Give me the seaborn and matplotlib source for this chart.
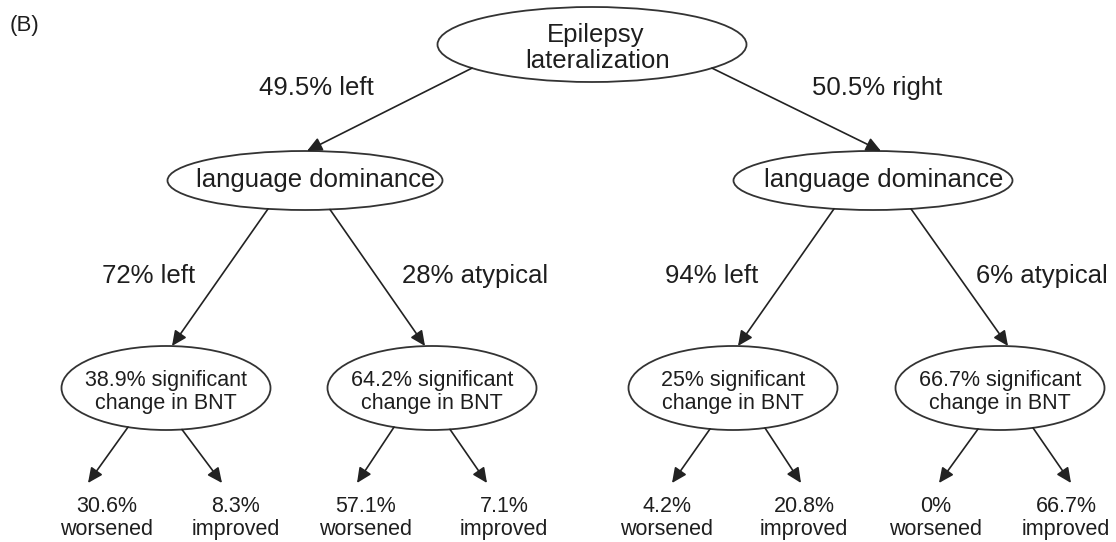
import matplotlib
matplotlib.use("Agg")
import matplotlib.pyplot as plt
from matplotlib.patches import Ellipse, FancyArrowPatch
import seaborn as sns
import numpy as np

# tree contents
root_label = "Epilepsy\nlateralization"
side_labels = ["49.5% left", "50.5% right"]
dom_label = "language dominance"
dom_labels = ["72% left", "28% atypical", "94% left", "6% atypical"]
sig_pcts = ["38.9%", "64.2%", "25%", "66.7%"]
worsened = ["30.6%", "57.1%", "4.2%", "0%"]
improved = ["8.3%", "7.1%", "20.8%", "66.7%"]

# layout in pixel units (figure is 1116 x 542)
ROOT = dict(x=592, y=44.5, w=309, h=75)
DOM_X = [305, 873]
DOM_W = [275, 279]
DOM_Y, DOM_H = 180.5, 59
SIG_X = [166, 432, 733, 1000]
SIG_Y, SIG_W, SIG_H = 388, 209, 84
LEAF_X = [[107, 236], [366, 504], [667, 804], [936, 1066]]
LEAF_TIP_X = [[88, 222], [357, 487], [672, 801], [939, 1071]]
LEAF_DX = [[-38, 16], [-38, 18], [-23, 32], [-22, 33]]
LEAF_TIP_Y = 483

sns.set_theme(style="white")
plt.rcParams["font.family"] = ["Liberation Sans", "DejaVu Sans"]

fig = plt.figure(figsize=(11.16, 5.42), dpi=100)
ax = fig.add_axes([0, 0, 1, 1])
ax.set_xlim(0, 1116)
ax.set_ylim(542, 0)
ax.axis("off")

LINE = "#222222"
EDGE = "#333333"
TXT = "#1e1e1e"
BIG = 18.5
SMALL = 15.5


def ellipse(x, y, w, h):
    ax.add_patch(Ellipse((x, y), w, h, facecolor="white", edgecolor=EDGE, lw=1.3, zorder=2))


def on_bottom(x, y, w, h, dx):
    # point on the lower edge of an ellipse, dx from its centre
    return x + dx, y + h / 2 * np.sqrt(max(0.0, 1 - (2 * dx / w) ** 2))


def arrow(p0, p1):
    ax.add_patch(FancyArrowPatch(p0, p1, arrowstyle="-|>,head_length=0.9,head_width=0.42",
                                 mutation_scale=10, color=LINE, lw=1.2,
                                 shrinkA=0, shrinkB=0, zorder=3))


ax.text(10, 31, "(B)", fontsize=16, color=TXT, va="baseline")

# root
ellipse(ROOT["x"], ROOT["y"], ROOT["w"], ROOT["h"])
ax.text(ROOT["x"] + 4, 42, root_label.split("\n")[0], fontsize=BIG, ha="center", va="baseline", color=TXT)
ax.text(ROOT["x"] + 6, 68, root_label.split("\n")[1], fontsize=BIG, ha="center", va="baseline", color=TXT)

root_dx = [-120, 120]
side_x = [316, 877]
for i in range(2):
    arrow(on_bottom(ROOT["x"], ROOT["y"], ROOT["w"], ROOT["h"], root_dx[i]),
          (DOM_X[i] + (2 if i == 0 else 8), DOM_Y - DOM_H / 2))
    ax.text(side_x[i], 95, side_labels[i], fontsize=BIG, ha="center", va="baseline", color=TXT)

# language dominance nodes
dom_dx = [[-37, 25], [-39, 38]]
dom_tip = [[172, 425], [738, 1008]]
dom_text_x = [[149, 475], [712, 1042]]
for i in range(2):
    ellipse(DOM_X[i], DOM_Y, DOM_W[i], DOM_H)
    ax.text(DOM_X[i] + 11, 187, dom_label, fontsize=BIG, ha="center", va="baseline", color=TXT)
    for j in range(2):
        k = 2 * i + j
        arrow(on_bottom(DOM_X[i], DOM_Y, DOM_W[i], DOM_H, dom_dx[i][j]),
              (dom_tip[i][j], SIG_Y - SIG_H / 2))
        ax.text(dom_text_x[i][j], 283, dom_labels[k], fontsize=BIG, ha="center", va="baseline", color=TXT)

# significant-change nodes and leaves
for k in range(4):
    ellipse(SIG_X[k], SIG_Y, SIG_W, SIG_H)
    ax.text(SIG_X[k], 386, f"{sig_pcts[k]} significant", fontsize=SMALL, ha="center", va="baseline", color=TXT)
    ax.text(SIG_X[k], 409, "change in BNT", fontsize=SMALL, ha="center", va="baseline", color=TXT)
    leaves = [(worsened[k], "worsened"), (improved[k], "improved")]
    for j in range(2):
        arrow(on_bottom(SIG_X[k], SIG_Y, SIG_W, SIG_H, LEAF_DX[k][j]), (LEAF_TIP_X[k][j], LEAF_TIP_Y))
        pct, word = leaves[j]
        ax.text(LEAF_X[k][j], 512, pct, fontsize=SMALL, ha="center", va="baseline", color=TXT)
        ax.text(LEAF_X[k][j], 535, word, fontsize=SMALL, ha="center", va="baseline", color=TXT)

fig.savefig("out.png", dpi=100)
